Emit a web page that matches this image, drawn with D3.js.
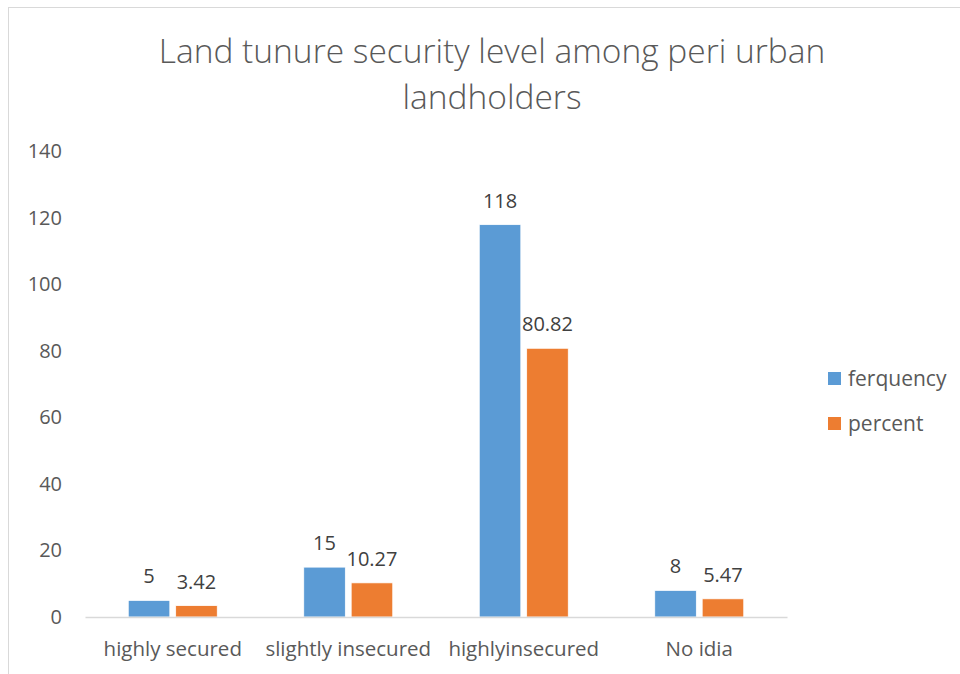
<!DOCTYPE html>
<html>
<head>
<meta charset="utf-8">
<script src="https://cdn.jsdelivr.net/npm/d3@7"></script>
<style>
  body { margin: 0; background: #fff; }
  text { font-family: "Open Sans", sans-serif; }
</style>
</head>
<body>
<svg class="chart" width="960" height="674"></svg>
<script>
var categories = ["highly secured", "slightly insecured", "highlyinsecured", "No idia"];
var seriesNames = ["ferquency", "percent"];
var frequency = [5, 15, 118, 8];
var percent = [3.42, 10.27, 80.82, 5.47];
var yTicks = [0, 20, 40, 60, 80, 100, 120, 140];

var colors = ["#5B9BD5", "#ED7D31"];

var svg = d3.select(".chart"),
    width = +svg.attr("width"),
    height = +svg.attr("height");

// chart frame
svg.append("rect")
    .attr("x", 8.5).attr("y", 7.5)
    .attr("width", 960).attr("height", 680)
    .attr("fill", "#fff")
    .attr("stroke", "#d9d9d9");

var margin = {left: 85, right: 173, top: 151.5, bottom: 57};

var x = d3.scaleBand()
    .domain(categories)
    .range([margin.left, width - margin.right]);

var y = d3.scaleLinear()
    .domain([0, 140])
    .range([height - margin.bottom, margin.top]);

var barW = 39, gap = 11;
var xs = d3.scaleBand().domain(seriesNames)
    .range([x.bandwidth() / 2 - barW - gap / 2, x.bandwidth() / 2 + barW + gap / 2])
    .paddingInner(gap / (2 * barW + gap));

var rows = [];
categories.forEach(function(c, i) {
  rows.push({cat: c, s: 0, v: frequency[i], label: String(frequency[i])});
  rows.push({cat: c, s: 1, v: percent[i], label: percent[i].toFixed(2)});
});

// title
svg.append("text")
    .attr("x", 492).attr("text-anchor", "middle")
    .attr("font-size", 33.5).attr("fill", "#595959")
    .selectAll("tspan")
    .data(["Land tunure security level among peri urban", "landholders"])
    .enter().append("tspan")
    .attr("x", 492)
    .attr("y", function(d, i) { return 63 + i * 46; })
    .attr("font-weight", 300)
    .text(function(d) { return d; });

// y axis labels only
var yAxis = d3.axisLeft(y).tickValues(yTicks).tickSize(0).tickPadding(0);
var gy = svg.append("g")
    .attr("transform", "translate(62,0)")
    .call(yAxis);
gy.select(".domain").remove();
gy.selectAll("text")
    .attr("font-size", 20).attr("fill", "#595959")
    .attr("font-family", "Open Sans, sans-serif");

// bars
svg.append("g")
    .selectAll("rect")
    .data(rows)
    .enter().append("rect")
    .attr("x", function(d) { return x(d.cat) + xs(seriesNames[d.s]); })
    .attr("y", function(d) { return y(d.v); })
    .attr("width", xs.bandwidth())
    .attr("height", function(d) { return y(0) - y(d.v); })
    .attr("fill", function(d) { return colors[d.s]; })
    .attr("stroke", "#fff")
    .attr("stroke-width", 0.75);

// data labels
svg.append("g")
    .selectAll("text")
    .data(rows)
    .enter().append("text")
    .attr("x", function(d) { return x(d.cat) + xs(seriesNames[d.s]) + xs.bandwidth() / 2; })
    .attr("y", function(d) { return y(d.v) - 17; })
    .attr("text-anchor", "middle")
    .attr("font-size", 20).attr("fill", "#404040")
    .text(function(d) { return d.label; });

// x axis
var xAxis = d3.axisBottom(x).tickSize(0).tickPadding(24);
var gx = svg.append("g")
    .attr("transform", "translate(0," + y(0) + ")")
    .call(xAxis);
gx.select(".domain").attr("stroke", "#d9d9d9").attr("stroke-width", 1.5);
gx.selectAll("text")
    .attr("font-size", 20.5).attr("fill", "#595959")
    .attr("font-family", "Open Sans, sans-serif");

// legend
var legend = svg.append("g")
    .selectAll("g")
    .data(seriesNames)
    .enter().append("g")
    .attr("transform", function(d, i) { return "translate(828," + (372 + i * 45) + ")"; });
legend.append("rect")
    .attr("width", 13).attr("height", 13)
    .attr("fill", function(d, i) { return colors[i]; });
legend.append("text")
    .attr("x", 20).attr("y", 14)
    .attr("font-size", 21).attr("fill", "#595959")
    .text(function(d) { return d; });
</script>
</body>
</html>
